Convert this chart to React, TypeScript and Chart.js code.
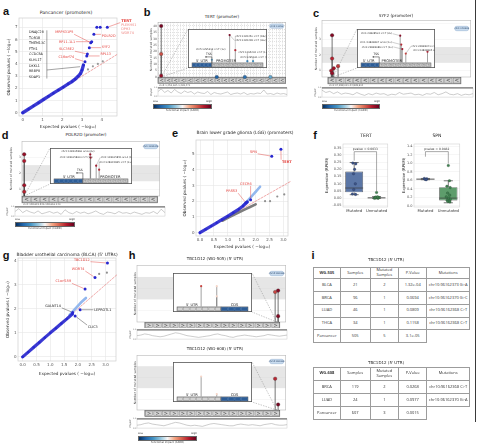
import React, { useEffect, useRef } from "react";
import { Chart, registerables } from "chart.js";

Chart.register(...registerables);

const SANS = "'DejaVu Sans', 'Open Sans', sans-serif";
const TABLE_FONT = "'Open Sans', 'DejaVu Sans', sans-serif";
const LETTER_FONT = "'Liberation Sans', Arial, sans-serif";
const INK = "#262626";
const HIT = "#e4413c";
const HIT_SOFT = "#ee8a86";
const QQ_BLUE = "#2727cf";
const RDBU = ["#053061", "#2166ac", "#4393c3", "#92c5de", "#f7f7f7", "#f4a582", "#d6604d", "#b2182b", "#67001f"];

Chart.defaults.font.family = SANS;

// ---------- a: pan-cancer promoters ----------
const panExpected = [0, 0.3, 0.55, 0.8, 1.05, 1.3, 1.55, 1.8, 2.05, 2.3, 2.5, 2.65, 2.8, 2.92, 3.0, 3.07];
const panObserved = [0, 0.3, 0.56, 0.82, 1.08, 1.34, 1.6, 1.85, 2.1, 2.36, 2.56, 2.75, 2.98, 3.2, 3.5, 3.9];
const panHitExpected = [3.15, 3.24, 3.27, 3.37, 3.44, 3.49, 3.6, 3.75, 3.92, 4.28];
const panHitObserved = [4.18, 4.65, 4.81, 5.33, 5.74, 5.82, 6.42, 7.0, 7.0, 7.0];
const panNullExpected = [3.3, 3.55, 3.8, 4.05];
const panNullObserved = [3.55, 3.8, 4.0, 4.2];
const panDiagonal = [0, 4.8];
const panXTicks = [0, 1, 2, 3, 4];
const panYTicks = [0, 1, 2, 3, 4, 5, 6, 7];
const panRedGenes = ["TERT", "PLEKHS1", "DPH3", "WDR74", "MRPS31P5", "RP11-1L1", "SLC35E2", "C16orf74", "POLR2D", "SYF2", "RPL13"];
const panListGenes = ["DNAJC28", "TOR1B", "TMEM13C", "FTH1", "CCDC8A", "KLHL17", "DKKL1", "RBBP8", "SDAP1"];

// ---------- e: LGG promoters ----------
const lggExpected = [0, 0.2, 0.4, 0.6, 0.8, 1.0, 1.2, 1.4, 1.55, 1.7];
const lggObserved = [0, 0.21, 0.42, 0.63, 0.84, 1.05, 1.27, 1.5, 1.7, 1.95];
const lggBandExpected = [1.55, 1.7, 1.85, 2.0, 2.16];
const lggBandObserved = [1.75, 2.0, 2.3, 2.6, 2.92];
const lggNullCurveExpected = [0.8, 1.0, 1.2, 1.4, 1.6, 1.8, 2.0];
const lggNullCurveObserved = [0.76, 0.94, 1.12, 1.3, 1.47, 1.63, 1.8];
const lggNullExpected = [2.34, 2.52, 2.78, 3.03];
const lggNullObserved = [2.0, 2.0, 2.3, 2.43];
const lggHitExpected = [1.65, 1.82, 2.58, 2.91];
const lggHitObserved = [1.9, 2.1, 4.86, 5.3];
const lggHitGenes = ["PRSS3", "CECR6", "SPN", "TERT"];
const lggDiagonal = [0, 3.25];
const lggXTicks = [0, 0.5, 1, 1.5, 2, 2.5, 3];
const lggYTicks = [0, 1, 2, 3, 4, 5];

// ---------- g: BLCA 5' UTRs ----------
const blcaExpected = [0, 0.2, 0.4, 0.6, 0.8, 1.0, 1.2, 1.4, 1.6, 1.8];
const blcaObserved = [0, 0.2, 0.4, 0.6, 0.8, 1.0, 1.19, 1.39, 1.58, 1.78];
const blcaBandExpected = [1.7, 1.9, 2.1, 2.29];
const blcaBandObserved = [1.75, 2.0, 2.25, 2.45];
const blcaHitExpected = [1.81, 1.9, 2.08, 2.26, 2.62, 3.07];
const blcaHitObserved = [1.85, 1.7, 1.96, 2.82, 3.3, 3.9];
const blcaHitGenes = ["GALNT14", "CLIC3", "LEPROTL1", "C1orf159", "WDR74", "TBC1D12"];
const blcaNullExpected = [2.77, 3.05];
const blcaNullObserved = [3.45, 3.5];
const blcaDiagonal = [0, 3.4];
const blcaXTicks = [0, 0.5, 1, 1.5, 2, 2.5, 3];
const blcaYTicks = [0, 1, 2, 3, 4];

// ---------- b: TERT promoter ----------
const tertMainPos = [2.5, 2.5, 2.5, 46, 68, 88];
const tertMainCount = [40, 18, 1, 0, 0, 0];
const tertMainCadd = [0.97, 0.78, 0.92, 0.12, 0.15, 0.3];
const tertCountGrid = [0, 2.5, 5, 7.5, 10, 12.5, 15, 17.5, 20, 22.5, 25, 27.5, 30, 32.5, 35, 37.5, 40, 42.5];
const tertCountLabels = [0, 5, 10, 15, 20, 25, 30, 35, 40];
const tertInsetPos = [28, 53, 61, 78, 86];
const tertInsetCount = [4, 40, 18, 2, 2];
const tertInsetCadd = [0.3, 0.97, 0.85, 0.2, 0.25];
const tertNotes = ["chr5:1295313 C>T (1x)", "chr5:1295228 C>T (40x)", "chr5:1295250 C>T (18x)", "chr5:1295242 C>T (1x)", "chr5:1295161 C>T (1x)"];
const tertPhyloP = [0.9, 1.4, 0.7, 1.1, 0.6, 1.3, 0.8, 0.5, 1.0, 0.7, 0.9, 0.4, 0.8, 0.6, 0.5, 0.9, 0.3, 0.7, 0.5, 0.4, 0.6, 0.8, 0.3, 0.5, 0.6, 0.4, 0.7, 0.3, 0.5, 0.4, 0.6, 0.5, 1.2, 0.4, 0.5, 0.3, 0.6, 0.4, 0.5, 0.3];

// ---------- c: SYF2 promoter ----------
const syf2MainPos = [6.8, 6.8, 7.9, 10.8, 6.2, 6.8];
const syf2MainCount = [3.25, 1.77, 1.15, 1.29, 1.0, 0.84];
const syf2MainCadd = [0.95, 0.86, 0.9, 0.82, 0.88, 0.92];
const syf2CountTicks = [1, 2, 3, 4];
const syf2CountLabels = [1, 2, 3];
const syf2InsetPos = [56, 57.5, 59, 64, 95];
const syf2InsetCount = [3, 2, 1.5, 1, 1.2];
const syf2InsetCadd = [0.95, 0.85, 0.9, 0.8, 0.88];
const syf2Notes = ["chr1:24838502 C>T (3x)", "chr1:24838497 G>A (2x)", "chr1:24838489 C>T (1x)", "chr1:24838471 C>T (1x)", "chr1:24838395 G>A (1x)"];
const syf2PhyloP = [1.2, 0.8, 1.0, 0.6, 0.9, 0.5, 0.7, 0.6, 0.4, 0.8, 0.5, 0.3, 0.6, 0.4, 0.7, 0.5, 0.6, 0.3, 0.5, 0.4, 0.8, 0.5, 0.6, 0.7, 0.4, 0.5, 0.3, 0.6, 0.5, 0.8, 0.4, 0.6, 0.9, 0.5, 0.4, 0.6, 0.3, 0.5, 0.4, 0.6];

// ---------- d: POLR2D promoter ----------
const polr2dMainPos = [1.6, 1.6, 1.6, 1.6];
const polr2dMainCount = [3.17, 2.76, 1.25, 0.84];
const polr2dMainCadd = [0.92, 0.88, 0.9, 0.86];
const polr2dCountTicks = [1, 2, 3];
const polr2dInsetPos = [49, 49.5, 57, 61];
const polr2dInsetCount = [3, 2.6, 1.6, 1.1];
const polr2dInsetCadd = [0.92, 0.88, 0.9, 0.86];
const polr2dNotes = ["chr2:128615866 G>A (2x)", "chr2:128615864 C>T (1x)", "chr2:128615851 G>A (1x)", "chr2:128615845 C>T (1x)"];
const polr2dPhyloP = [0.8, 1.3, 0.6, 1.0, 0.7, 0.5, 0.9, 0.4, 0.6, 0.8, 0.5, 0.7, 0.3, 1.1, 0.6, 0.4, 0.8, 0.5, 0.7, 0.4, 0.6, 0.9, 0.5, 0.3, 0.7, 0.6, 0.4, 0.8, 0.5, 0.6, 0.4, 0.7, 0.5, 0.3, 0.6, 0.5, 0.8, 0.4, 1.2, 0.6];

// ---------- h: TBC1D12 5' UTR ----------
const wg505MainPos = [92.9, 94.9, 94.9];
const wg505MainCount = [1.83, 1.89, 0.75];
const wg505MainCadd = [0.8, 0.95, 0.95];
const wg505InsetPos = [34, 56, 56];
const wg505InsetCount = [2, 2, 1];
const wg505InsetCadd = [0.8, 0.55, 0.55];
const wg505PhyloP = [0.6, 0.7, 0.9, 0.8, 0.6, 0.5, 0.4, 0.5, 0.7, 0.9, 1.1, 1.0, 0.8, 0.6, 0.5, 0.4, 0.3, 0.4, 0.5, 0.6, 0.8, 0.9, 0.7, 0.6, 0.4, 0.3, 0.5, 0.6, 0.7, 0.6, 0.5, 0.4, 0.5, 0.6, 0.8, 0.7, 0.6, 0.5, 0.6, 0.7];
const wg608MainPos = [92.9, 94.9];
const wg608MainCount = [1.93, 0.75];
const wg608MainCadd = [0.85, 0.97];
const wg608InsetPos = [34, 56];
const wg608InsetCount = [1.9, 0.23];
const wg608InsetCadd = [0.55, 0.55];
const wg608PhyloP = [0.5, 0.6, 0.8, 0.9, 0.7, 0.6, 0.5, 0.4, 0.6, 0.8, 1.0, 0.9, 0.7, 0.5, 0.4, 0.5, 0.4, 0.3, 0.5, 0.7, 0.8, 0.7, 0.6, 0.5, 0.4, 0.4, 0.6, 0.7, 0.6, 0.5, 0.6, 0.5, 0.4, 0.6, 0.7, 0.8, 0.6, 0.5, 0.5, 0.6];
const tbcCountTicks = [1, 2];

// ---------- f: expression ----------
const exprGroups = ["Mutated", "Unmutated"];
const tertQ1 = [0.041, 0.001];
const tertMedian = [0.071, 0.003];
const tertQ3 = [0.185, 0.006];
const tertLow = [0.025, 0.0];
const tertHigh = [0.247, 0.012];
const tertMutatedRpkm = [0.243, 0.238, 0.2, 0.17, 0.1, 0.06, 0.03, 0.027];
const tertMutatedJitter = [-0.06, 0.07, 0.02, -0.03, 0.05, -0.02, -0.08, 0.06];
const tertUnmutatedRpkm = [0.0, 0.001, 0.002, 0.003, 0.004, 0.005, 0.006, 0.008, 0.01, 0.04];
const tertUnmutatedJitter = [-0.1, 0.06, -0.03, 0.09, -0.07, 0.02, 0.1, -0.05, 0.04, 0.0];
const tertTicks = [-0.05, 0, 0.05, 0.1, 0.15, 0.2, 0.25, 0.3, 0.35];
const spnQ1 = [0.62, 0.126];
const spnMedian = [0.63, 0.18];
const spnQ3 = [0.64, 0.44];
const spnLow = [0.615, 0.07];
const spnHigh = [0.645, 0.59];
const spnMutatedRpkm = [0.645, 0.635, 0.625, 0.615];
const spnMutatedJitter = [-0.05, 0.06, -0.02, 0.03];
const spnUnmutatedRpkm = [0.95, 0.59, 0.46, 0.43, 0.3, 0.25, 0.21, 0.18, 0.15, 0.13, 0.12, 0.1, 0.09];
const spnUnmutatedJitter = [0.0, 0.05, -0.06, 0.08, -0.03, 0.06, -0.09, 0.02, 0.09, -0.05, 0.04, -0.02, 0.07];
const spnTicks = [0, 0.2, 0.4, 0.6, 0.8, 1.0, 1.2, 1.4];

// ---------- i: tables ----------
const wg505Cohorts = ["BLCA", "BRCA", "LUAD", "THCA", "Pancancer"];
const wg505Samples = [21, 96, 46, 34, 505];
const wg505Mutated = [2, 1, 1, 1, 5];
const wg505PValues = ["1.32e-04", "0.0694", "0.0809", "0.1158", "3.1e-05"];
const wg505Mutations = ["chr10:96162373 G>A", "chr10:96162370 G>C", "chr10:96162368 C>T", "chr10:96162368 C>T", ""];
const wg608Cohorts = ["BRCA", "LUAD", "Pancancer"];
const wg608Samples = [119, 24, 607];
const wg608Mutated = [2, 1, 3];
const wg608PValues = ["0.0268", "0.0977", "0.0015"];
const wg608Mutations = ["chr10:96162368 C>T", "chr10:96162370 G>A", ""];

// ---------------- helpers ----------------
function hexToRgb(h: string) {
  const n = parseInt(h.slice(1), 16);
  return [(n >> 16) & 255, (n >> 8) & 255, n & 255];
}
function caddColor(v: number) {
  const t = Math.max(0, Math.min(1, v)) * (RDBU.length - 1);
  const i = Math.min(RDBU.length - 2, Math.floor(t));
  const f = t - i;
  const a = hexToRgb(RDBU[i]);
  const b = hexToRgb(RDBU[i + 1]);
  const c = a.map((av, k) => Math.round(av + (b[k] - av) * f));
  return `rgb(${c[0]},${c[1]},${c[2]})`;
}
const clamp = (v: number, lo: number, hi: number) => Math.max(lo, Math.min(hi, v));

function fitLayout(box: any, area: any) {
  return {
    padding: { left: 0, top: area.y0 - box.t, right: box.l + box.w - area.x1, bottom: 0 },
    yW: area.x0 - box.l,
    xH: box.t + box.h - area.y1,
  };
}

const baseOptions = { responsive: false, animation: false, devicePixelRatio: 1, events: [] as any[] };
const noPlugins = { legend: { display: false }, tooltip: { enabled: false }, title: { display: false } };

function drawCallout(ctx: any, x: any, y: any, l: any) {
  ctx.font = `${l.bold ? "bold " : ""}${l.size || 3.8}px ${SANS}`;
  ctx.fillStyle = l.color;
  ctx.textAlign = l.align || "center";
  ctx.textBaseline = "middle";
  const px = x.getPixelForValue(l.at[0]);
  const py = y.getPixelForValue(l.at[1]);
  ctx.fillText(l.text, px, py);
  if (!l.to) return;
  const w = ctx.measureText(l.text).width;
  const bx0 = l.align === "left" ? px : l.align === "right" ? px - w : px - w / 2;
  const tx = x.getPixelForValue(l.to[0]);
  const ty = y.getPixelForValue(l.to[1]);
  const sx = clamp(tx, bx0 - 0.8, bx0 + w + 0.8);
  const sy = clamp(ty, py - 2, py + 2);
  const d = Math.hypot(tx - sx, ty - sy) || 1;
  ctx.strokeStyle = l.lineColor || l.color;
  ctx.lineWidth = 0.45;
  ctx.beginPath();
  ctx.moveTo(sx, sy);
  ctx.lineTo(tx - ((tx - sx) / d) * 1.6, ty - ((ty - sy) / d) * 1.6);
  ctx.stroke();
}

// ---------------- QQ plots ----------------
function qqConfig(s: any) {
  const f = fitLayout(s.box, s.area);
  const n = s.layers.length;
  return {
    type: "scatter",
    data: {
      datasets: s.layers.map((l: any, i: number) => ({
        data: l.x.map((xv: number, k: number) => ({ x: xv, y: l.y[k] })),
        showLine: !!l.width,
        borderColor: l.color,
        borderWidth: l.width || 0,
        borderDash: l.dash || [],
        borderCapStyle: "round",
        borderJoinStyle: "round",
        pointRadius: l.r || 0,
        pointBackgroundColor: l.color,
        pointBorderWidth: 0,
        clip: false,
        order: n - i,
      })),
    },
    options: {
      ...baseOptions,
      layout: { padding: f.padding },
      plugins: noPlugins,
      scales: {
        x: {
          type: "linear",
          min: s.xr[0],
          max: s.xr[1],
          afterFit: (sc: any) => { sc.height = f.xH; },
          afterBuildTicks: (sc: any) => { sc.ticks = s.xTicks.map((v: number) => ({ value: v })); },
          ticks: { font: { size: 4 }, color: "#555", padding: 1.5, autoSkip: false, maxRotation: 0, callback: (v: number) => v.toFixed(s.xDec) },
          grid: { color: "#e6e6e6", lineWidth: 0.6, drawTicks: false },
          border: { display: false },
          title: { display: true, text: "Expected pvalues ( −log₁₀)", font: { size: 4.2 }, color: "#333", padding: { top: 0, bottom: 0 } },
        },
        y: {
          type: "linear",
          min: s.yr[0],
          max: s.yr[1],
          afterFit: (sc: any) => { sc.width = f.yW; },
          afterBuildTicks: (sc: any) => { sc.ticks = s.yTicks.map((v: number) => ({ value: v })); },
          ticks: { font: { size: 4 }, color: "#555", padding: 1.5, autoSkip: false, callback: (v: number) => String(v) },
          grid: { color: "#e6e6e6", lineWidth: 0.6, drawTicks: false },
          border: { display: false },
          title: { display: true, text: "Observed pvalues ( −log₁₀)", font: { size: 4.2 }, color: "#333", padding: { top: s.yTitlePad, bottom: 0 } },
        },
      },
    },
    plugins: [
      {
        id: "qqDecor",
        beforeDatasetsDraw(chart: any) {
          const { ctx, chartArea: a } = chart;
          ctx.save();
          ctx.strokeStyle = "#cfcfcf";
          ctx.lineWidth = 0.7;
          ctx.strokeRect(a.left, a.top, a.right - a.left, a.bottom - a.top);
          ctx.restore();
        },
        afterDatasetsDraw(chart: any) {
          const { ctx, scales } = chart;
          const x = scales.x, y = scales.y;
          ctx.save();
          (s.rules || []).forEach((r: number[]) => {
            ctx.strokeStyle = "#333";
            ctx.lineWidth = 0.45;
            ctx.beginPath();
            ctx.moveTo(x.getPixelForValue(r[0]), y.getPixelForValue(r[1]));
            ctx.lineTo(x.getPixelForValue(r[2]), y.getPixelForValue(r[3]));
            ctx.stroke();
          });
          s.labels.forEach((l: any) => drawCallout(ctx, x, y, l));
          ctx.restore();
        },
      },
    ],
  };
}

// ---------------- lollipop main view ----------------
function lollipopConfig(s: any) {
  const f = fitLayout(s.box, s.area);
  return {
    type: "scatter",
    data: {
      datasets: [
        {
          data: s.pos.map((p: number, i: number) => ({ x: p, y: s.count[i] })),
          pointRadius: s.r || 1.8,
          pointBackgroundColor: s.cadd.map(caddColor),
          pointBorderColor: "#333",
          pointBorderWidth: 0.3,
          clip: false,
        },
      ],
    },
    options: {
      ...baseOptions,
      layout: { padding: f.padding },
      plugins: noPlugins,
      scales: {
        x: {
          type: "linear",
          min: 0,
          max: 100,
          afterFit: (sc: any) => { sc.height = f.xH; },
          ticks: { display: false, stepSize: 2.5 },
          grid: { display: !!s.dense, color: "#c4c4c4", lineWidth: 0.5, drawTicks: false },
          border: { display: false, dash: [1, 1] },
        },
        y: {
          type: "linear",
          min: s.yMin,
          max: s.yMax,
          afterFit: (sc: any) => { sc.width = f.yW; },
          afterBuildTicks: (sc: any) => { sc.ticks = s.yGrid.map((v: number) => ({ value: v })); },
          ticks: { font: { size: 3 }, color: "#555", padding: 1, autoSkip: false, callback: (v: number) => (s.yLabels.includes(v) ? String(v) : "") },
          grid: { color: s.dense ? "#c4c4c4" : "#eeeeee", lineWidth: 0.5, drawTicks: false },
          border: { display: false, dash: s.dense ? [1, 1] : [] },
          title: { display: true, text: "Number of mutated samples", font: { size: 3 }, color: "#444", padding: { top: s.yTitlePad, bottom: 0 } },
        },
      },
    },
    plugins: [
      {
        id: "lollipopDecor",
        beforeDatasetsDraw(chart: any) {
          const { ctx, chartArea: a, scales } = chart;
          const x = scales.x, y = scales.y;
          ctx.save();
          if (s.band) {
            const yt = y.getPixelForValue(s.band[1]);
            const yb = y.getPixelForValue(s.band[0]);
            ctx.fillStyle = "rgba(205,205,205,0.5)";
            ctx.fillRect(a.left, yt, a.right - a.left, yb - yt);
          }
          ctx.strokeStyle = "#b8b8b8";
          ctx.lineWidth = 0.6;
          ctx.strokeRect(a.left, a.top, a.right - a.left, a.bottom - a.top);
          // gene track with strand chevrons
          const x0 = x.getPixelForValue(s.track[0]);
          const x1 = x.getPixelForValue(s.track[1]);
          const t0 = a.bottom + 0.3;
          const th = s.trackH;
          ctx.fillStyle = "#d3d3d3";
          ctx.fillRect(x0, t0, x1 - x0, th);
          const cw = (x1 - x0) / s.cells;
          ctx.strokeStyle = "#7a7a7a";
          ctx.lineWidth = 0.35;
          ctx.font = `${th * 0.85}px ${SANS}`;
          ctx.textAlign = "center";
          ctx.textBaseline = "middle";
          ctx.fillStyle = "#4a4a4a";
          for (let i = 0; i < s.cells; i++) {
            ctx.strokeRect(x0 + i * cw + 0.6, t0 + 0.8, cw - 1.2, th - 1.6);
            ctx.fillText(s.chevron, x0 + (i + 0.5) * cw, t0 + th / 2);
          }
          ctx.strokeStyle = "#555";
          ctx.lineWidth = 0.6;
          ctx.strokeRect(x0, t0, x1 - x0, th);
          ctx.font = `2.4px ${SANS}`;
          ctx.textAlign = "left";
          ctx.fillStyle = "#555";
          ctx.fillText(s.locus, x0 + 1, t0 + th + 1.8);
          // dashed guides towards the zoomed inset
          const gx = x.getPixelForValue(s.guideAt);
          const cx = (s.guideSide === "left" ? s.inset.x0 : s.inset.x1) - s.box.l;
          ctx.setLineDash([1.4, 1.2]);
          ctx.strokeStyle = "#8a8a8a";
          ctx.lineWidth = 0.5;
          [s.inset.y0, s.inset.y1].forEach((cy: number) => {
            ctx.beginPath();
            ctx.moveTo(gx, a.bottom);
            ctx.lineTo(cx, cy - s.box.t);
            ctx.stroke();
          });
          ctx.setLineDash([]);
          // stems
          ctx.strokeStyle = "#3a3a3a";
          ctx.lineWidth = 0.7;
          s.pos.forEach((p: number, i: number) => {
            if (s.count[i] <= s.yMin) return;
            const px = x.getPixelForValue(p);
            ctx.beginPath();
            ctx.moveTo(px, a.bottom);
            ctx.lineTo(px, y.getPixelForValue(s.count[i]));
            ctx.stroke();
          });
          // region badge
          const bw = 14, bh = 4.4;
          const bx = a.right - bw - 2, by = a.top + s.badgeDy;
          ctx.fillStyle = "#c9dcef";
          ctx.strokeStyle = "#7e9fc4";
          ctx.lineWidth = 0.4;
          ctx.beginPath();
          ctx.roundRect(bx, by, bw, bh, 2);
          ctx.fill();
          ctx.stroke();
          ctx.fillStyle = "#2e4a6d";
          ctx.font = `2.3px ${SANS}`;
          ctx.textAlign = "center";
          ctx.fillText(s.badge, bx + bw / 2, by + bh / 2 + 0.1);
          ctx.restore();
        },
      },
    ],
  };
}

// ---------------- lollipop zoomed inset ----------------
function insetConfig(s: any) {
  const w = s.rect.x1 - s.rect.x0;
  const h = s.rect.y1 - s.rect.y0;
  const barH = 4.2;
  return {
    type: "scatter",
    data: {
      datasets: [
        {
          data: s.pos.map((p: number, i: number) => ({ x: p, y: s.count[i] })),
          pointRadius: 1.1,
          pointBackgroundColor: s.cadd.map(caddColor),
          pointBorderWidth: 0,
          clip: false,
        },
      ],
    },
    options: {
      ...baseOptions,
      layout: { padding: { top: 3, bottom: barH + 1.3, left: 0.6, right: 0.6 } },
      plugins: noPlugins,
      scales: { x: { display: false, min: 0, max: 100 }, y: { display: false, min: 0, max: s.yMax } },
    },
    plugins: [
      {
        id: "insetFrame",
        beforeDraw(chart: any) {
          const ctx = chart.ctx;
          ctx.save();
          ctx.fillStyle = "#fff";
          ctx.fillRect(0, 0, w, h);
          ctx.restore();
        },
        beforeDatasetsDraw(chart: any) {
          const { ctx, chartArea: a, scales } = chart;
          const x = scales.x, y = scales.y;
          ctx.save();
          ctx.strokeStyle = "#555";
          ctx.lineWidth = 0.55;
          s.pos.forEach((p: number, i: number) => {
            const px = x.getPixelForValue(p);
            ctx.beginPath();
            ctx.moveTo(px, a.bottom);
            ctx.lineTo(px, y.getPixelForValue(s.count[i]));
            ctx.stroke();
          });
          ctx.restore();
        },
        afterDatasetsDraw(chart: any) {
          const { ctx, chartArea: a, scales } = chart;
          const x = scales.x, y = scales.y;
          ctx.save();
          const t0 = a.bottom + 0.4;
          s.parts.forEach((p: any) => {
            const px0 = x.getPixelForValue(p.from);
            const px1 = x.getPixelForValue(p.to);
            ctx.fillStyle = p.kind === "blue" ? "#2d5d97" : "#d2d2d2";
            ctx.fillRect(px0, t0, px1 - px0, barH);
            const cells = p.cells || 0;
            const cw = (px1 - px0) / Math.max(cells, 1);
            ctx.strokeStyle = p.kind === "blue" ? "#6f93bf" : "#7a7a7a";
            ctx.lineWidth = 0.3;
            ctx.font = `${barH * 0.8}px ${SANS}`;
            ctx.textAlign = "center";
            ctx.textBaseline = "middle";
            ctx.fillStyle = "#505050";
            for (let i = 0; i < cells; i++) {
              ctx.strokeRect(px0 + i * cw + 0.5, t0 + 0.7, cw - 1, barH - 1.4);
              if (p.chevron) ctx.fillText(p.chevron, px0 + (i + 0.5) * cw, t0 + barH / 2);
            }
            ctx.strokeStyle = "#555";
            ctx.lineWidth = 0.45;
            ctx.strokeRect(px0, t0, px1 - px0, barH);
          });
          ctx.fillStyle = "#222";
          ctx.font = `3.6px ${SANS}`;
          ctx.textAlign = "center";
          ctx.textBaseline = "alphabetic";
          s.partLabels.forEach((l: any) => ctx.fillText(l.text, x.getPixelForValue(l.at), t0 - 1.2));
          if (s.tss !== undefined) {
            const tx = x.getPixelForValue(s.tss);
            ctx.strokeStyle = "#222";
            ctx.lineWidth = 0.5;
            ctx.beginPath();
            ctx.moveTo(tx, t0);
            ctx.lineTo(tx, t0 - 6);
            ctx.lineTo(tx + s.tssDir * 6, t0 - 6);
            ctx.stroke();
            ctx.beginPath();
            ctx.moveTo(tx + s.tssDir * 7, t0 - 6);
            ctx.lineTo(tx + s.tssDir * 5.5, t0 - 6.9);
            ctx.lineTo(tx + s.tssDir * 5.5, t0 - 5.1);
            ctx.closePath();
            ctx.fillStyle = "#222";
            ctx.fill();
            ctx.font = `3px ${SANS}`;
            ctx.fillText("TSS", tx + s.tssDir * 3, t0 - 7.6);
          }
          (s.notes || []).forEach((nt: any) => {
            ctx.font = `2.5px ${SANS}`;
            ctx.fillStyle = "#333";
            ctx.textAlign = "left";
            ctx.textBaseline = "middle";
            const px = nt.fx * w, py = nt.fy * h;
            ctx.fillText(nt.text, px, py);
            const tw = ctx.measureText(nt.text).width;
            const hx = x.getPixelForValue(s.pos[nt.i]);
            const hy = y.getPixelForValue(s.count[nt.i]);
            const sx = clamp(hx, px - 0.6, px + tw + 0.6);
            ctx.strokeStyle = "#777";
            ctx.lineWidth = 0.35;
            ctx.beginPath();
            ctx.moveTo(sx, py);
            ctx.lineTo(hx, hy);
            ctx.stroke();
          });
          ctx.strokeStyle = "#555";
          ctx.lineWidth = 0.8;
          ctx.strokeRect(0.4, 0.4, w - 0.8, h - 0.8);
          ctx.restore();
        },
      },
    ],
  };
}

// ---------------- conservation track ----------------
function phyloConfig(s: any) {
  const f = fitLayout(s.box, s.area);
  return {
    type: "line",
    data: {
      labels: s.values.map((_: number, i: number) => i),
      datasets: [{ data: s.values, borderColor: "#9b9b9b", borderWidth: 0.5, pointRadius: 0, tension: 0, clip: false }],
    },
    options: {
      ...baseOptions,
      layout: { padding: { ...f.padding, bottom: f.xH } },
      plugins: noPlugins,
      scales: {
        x: { display: false, offset: false },
        y: {
          min: 0,
          max: 1.6,
          afterFit: (sc: any) => { sc.width = f.yW; },
          afterBuildTicks: (sc: any) => { sc.ticks = [0, 0.8, 1.6].map((v) => ({ value: v })); },
          ticks: { font: { size: 2.2 }, color: "#777", padding: 0.6, callback: (v: number) => v.toFixed(1) },
          grid: { display: false, drawTicks: false },
          border: { display: false },
          title: { display: true, text: "PhyloP", font: { size: 2.4 }, color: "#555", padding: { top: s.titlePad, bottom: 0 } },
        },
      },
    },
    plugins: [
      {
        id: "phyloFrame",
        beforeDatasetsDraw(chart: any) {
          const { ctx, chartArea: a } = chart;
          ctx.save();
          ctx.strokeStyle = "#c8c8c8";
          ctx.lineWidth = 0.5;
          ctx.strokeRect(a.left, a.top, a.right - a.left, a.bottom - a.top);
          ctx.strokeStyle = "#444";
          ctx.lineWidth = 0.9;
          ctx.beginPath();
          ctx.moveTo(a.left, a.top);
          ctx.lineTo(a.right, a.top);
          ctx.stroke();
          ctx.restore();
        },
      },
    ],
  };
}

// ---------------- expression box plots ----------------
function boxConfig(s: any) {
  const f = fitLayout(s.box, s.area);
  return {
    type: "bar",
    data: {
      datasets: [
        {
          type: "bar",
          data: [0, 1].map((i) => ({ x: i, y: [s.q1[i], s.q3[i]] })),
          backgroundColor: ["#5b76a6", "#5e9d6c"],
          borderColor: "#3d3d3d",
          borderWidth: 0.7,
          borderSkipped: false,
          barPercentage: 1,
          categoryPercentage: 0.8,
          order: 3,
        },
        {
          type: "scatter",
          data: s.pts[0].map((v: number, k: number) => ({ x: s.jit[0][k], y: v })),
          pointRadius: 1.3,
          pointBackgroundColor: "#3d5488",
          pointBorderColor: "#1e2a44",
          pointBorderWidth: 0.25,
          clip: false,
          order: 1,
        },
        {
          type: "scatter",
          data: s.pts[1].map((v: number, k: number) => ({ x: 1 + s.jit[1][k], y: v })),
          pointRadius: 1.3,
          pointBackgroundColor: "#3f8050",
          pointBorderColor: "#1f3f28",
          pointBorderWidth: 0.25,
          clip: false,
          order: 2,
        },
      ],
    },
    options: {
      ...baseOptions,
      layout: { padding: f.padding },
      plugins: noPlugins,
      scales: {
        x: {
          type: "linear",
          min: -0.5,
          max: 1.5,
          offset: false,
          afterFit: (sc: any) => { sc.height = f.xH; },
          afterBuildTicks: (sc: any) => { sc.ticks = [{ value: 0 }, { value: 1 }]; },
          ticks: { font: { size: 3.8 }, color: "#333", padding: 2, autoSkip: false, maxRotation: 0, callback: (v: number) => exprGroups[v] },
          grid: { display: false, drawTicks: false },
          border: { display: false },
        },
        y: {
          type: "linear",
          min: s.yr[0],
          max: s.yr[1],
          afterFit: (sc: any) => { sc.width = f.yW; },
          afterBuildTicks: (sc: any) => { sc.ticks = s.ticks.map((v: number) => ({ value: v })); },
          ticks: { font: { size: 3.5 }, color: "#555", padding: 1.5, autoSkip: false, callback: (v: number) => v.toFixed(s.dec) },
          grid: { color: "#ececec", lineWidth: 0.5, drawTicks: false },
          border: { display: false },
          title: { display: true, text: "Expression (RPKM)", font: { size: 3.8 }, color: "#333", padding: { top: s.yTitlePad, bottom: 0 } },
        },
      },
    },
    plugins: [
      {
        id: "boxDecor",
        beforeDatasetsDraw(chart: any) {
          const { ctx, chartArea: a } = chart;
          ctx.save();
          ctx.strokeStyle = "#d2d2d2";
          ctx.lineWidth = 0.6;
          ctx.strokeRect(a.left, a.top, a.right - a.left, a.bottom - a.top);
          ctx.restore();
        },
        afterDatasetDraw(chart: any, args: any) {
          if (args.index !== 0) return;
          const { ctx, scales } = chart;
          const x = scales.x, y = scales.y;
          const half = (x.getPixelForValue(0.4) - x.getPixelForValue(0)) ;
          ctx.save();
          ctx.strokeStyle = "#3d3d3d";
          ctx.lineWidth = 0.7;
          [0, 1].forEach((i) => {
            const cx = x.getPixelForValue(i);
            const seg = (x0: number, y0: number, x1: number, y1: number) => {
              ctx.beginPath();
              ctx.moveTo(x0, y0);
              ctx.lineTo(x1, y1);
              ctx.stroke();
            };
            seg(cx, y.getPixelForValue(s.q3[i]), cx, y.getPixelForValue(s.hi[i]));
            seg(cx, y.getPixelForValue(s.q1[i]), cx, y.getPixelForValue(s.lo[i]));
            seg(cx - half / 2, y.getPixelForValue(s.hi[i]), cx + half / 2, y.getPixelForValue(s.hi[i]));
            seg(cx - half / 2, y.getPixelForValue(s.lo[i]), cx + half / 2, y.getPixelForValue(s.lo[i]));
            seg(cx - half, y.getPixelForValue(s.med[i]), cx + half, y.getPixelForValue(s.med[i]));
          });
          ctx.restore();
        },
        afterDatasetsDraw(chart: any) {
          const { ctx, scales } = chart;
          const x = scales.x, y = scales.y;
          const bx0 = x.getPixelForValue(0), bx1 = x.getPixelForValue(1);
          const by = y.getPixelForValue(s.bracket[0]);
          ctx.save();
          ctx.strokeStyle = "#555";
          ctx.lineWidth = 0.5;
          ctx.beginPath();
          ctx.moveTo(bx0, y.getPixelForValue(s.bracket[1]));
          ctx.lineTo(bx0, by);
          ctx.lineTo(bx1, by);
          ctx.lineTo(bx1, y.getPixelForValue(s.bracket[2]));
          ctx.stroke();
          ctx.fillStyle = "#333";
          ctx.font = `3px ${SANS}`;
          ctx.textAlign = "center";
          ctx.textBaseline = "bottom";
          ctx.fillText(s.pText, (bx0 + bx1) / 2, by - 0.6);
          ctx.restore();
        },
      },
    ],
  };
}

// ---------------- React pieces ----------------
function ChartCanvas({ box, make }: any) {
  const ref = useRef<HTMLCanvasElement>(null);
  useEffect(() => {
    const chart = new Chart(ref.current as HTMLCanvasElement, make());
    return () => chart.destroy();
  }, []);
  return (
    <canvas
      ref={ref}
      width={box.w}
      height={box.h}
      style={{ position: "absolute", left: box.l, top: box.t, width: box.w, height: box.h }}
    />
  );
}

function Txt({ x, y, size, children, color = INK, weight = 400, align = "center", family = SANS }: any) {
  const tx = align === "center" ? "-50%" : align === "right" ? "-100%" : "0";
  return (
    <div
      style={{
        position: "absolute",
        left: x,
        top: y,
        transform: `translate(${tx}, -50%)`,
        fontSize: size,
        lineHeight: 1,
        color,
        fontWeight: weight,
        fontFamily: family,
        whiteSpace: "nowrap",
      }}
    >
      {children}
    </div>
  );
}

function ColorBar({ x, y, w, h }: any) {
  return (
    <>
      <div
        style={{
          position: "absolute",
          left: x,
          top: y,
          width: w,
          height: h,
          background: `linear-gradient(to right, ${RDBU.join(",")})`,
          border: "0.4px solid #666",
          boxSizing: "border-box",
        }}
      />
      <Txt x={x} y={y - 1.8} size={2.5} align="left">Low</Txt>
      <Txt x={x + w} y={y - 1.8} size={2.5} align="right">High</Txt>
      <Txt x={x + w / 2} y={y + h + 2.3} size={2.6} color="#444">Functional impact (CADD)</Txt>
    </>
  );
}

function Inset({ spec }: any) {
  const r = spec.rect;
  return <ChartCanvas box={{ l: r.x0, t: r.y0, w: r.x1 - r.x0, h: r.y1 - r.y0 }} make={() => insetConfig(spec)} />;
}

function CohortTable({ left, top, id, cohorts, samples, mutated, pvals, muts, headH, rowH }: any) {
  const cell: any = { border: "0.6px solid #9c9c9c", padding: 0, textAlign: "center", fontWeight: 400, lineHeight: 1.2 };
  const widths = [26.7, 30, 28.3, 28.4, 42.6];
  return (
    <table
      style={{
        position: "absolute",
        left,
        top,
        borderCollapse: "collapse",
        tableLayout: "fixed",
        width: 156,
        fontFamily: TABLE_FONT,
        fontSize: 4,
        color: "#333",
      }}
    >
      <colgroup>
        {widths.map((w, i) => (
          <col key={i} style={{ width: w }} />
        ))}
      </colgroup>
      <thead>
        <tr style={{ height: headH }}>
          <th style={{ ...cell, fontWeight: 700 }}>{id}</th>
          <th style={cell}>Samples</th>
          <th style={cell}>
            Mutated
            <br />
            Samples
          </th>
          <th style={cell}>P-Value</th>
          <th style={cell}>Mutations</th>
        </tr>
      </thead>
      <tbody>
        {cohorts.map((c: string, i: number) => (
          <tr key={c} style={{ height: rowH }}>
            <td style={cell}>{c}</td>
            <td style={cell}>{samples[i]}</td>
            <td style={cell}>{mutated[i]}</td>
            <td style={cell}>{pvals[i]}</td>
            <td style={muts[i] ? cell : { border: "none" }}>{muts[i]}</td>
          </tr>
        ))}
      </tbody>
    </table>
  );
}

// ---------------- figure ----------------
export default function App() {
  const ys = (from: number, step: number, n: number) => Array.from({ length: n }, (_, k) => from - k * step);
  const listY = ys(6.6, 0.46, panListGenes.length);

  const panSpec = {
    box: { l: 0, t: 14, w: 142, h: 115 },
    area: { x0: 19, y0: 18, x1: 117, y1: 116 },
    xr: [-0.19, 4.77],
    yr: [-0.27, 7.76],
    xTicks: panXTicks,
    yTicks: panYTicks,
    xDec: 0,
    yTitlePad: 6.5,
    layers: [
      { x: panDiagonal, y: panDiagonal, width: 0.6, dash: [2, 1.5], color: "rgba(228,96,96,0.9)" },
      { x: panNullExpected, y: panNullObserved, r: 1.1, color: "#9a9a9a" },
      { x: panExpected, y: panObserved, width: 3.4, r: 1.3, color: "rgba(39,39,207,0.9)" },
      { x: panHitExpected, y: panHitObserved, r: 1.5, color: QQ_BLUE },
    ],
    rules: [
      [1.22, 6.75, 1.22, 2.8],
      [1.22, 3.5, 2.9, 3.77],
    ],
    labels: [
      { text: panRedGenes[0], at: [4.98, 7.55], to: [panHitExpected[9], panHitObserved[9]], color: HIT, align: "left", bold: true },
      { text: panRedGenes[1], at: [4.98, 7.2], color: HIT_SOFT, align: "left", size: 3.4 },
      { text: panRedGenes[2], at: [4.98, 6.87], color: HIT_SOFT, align: "left", size: 3.4 },
      { text: panRedGenes[3], at: [4.98, 6.54], color: HIT_SOFT, align: "left", size: 3.4 },
      { text: panRedGenes[4], at: [2.56, 6.59], to: [panHitExpected[4], panHitObserved[4]], color: HIT, align: "right", size: 3.4 },
      { text: panRedGenes[5], at: [2.65, 5.82], to: [panHitExpected[5], panHitObserved[5]], color: HIT, align: "right", size: 3.4 },
      { text: panRedGenes[6], at: [2.6, 5.2], to: [panHitExpected[2], panHitObserved[2]], color: HIT, align: "right", size: 3.4 },
      { text: panRedGenes[7], at: [2.6, 4.59], to: [panHitExpected[0], panHitObserved[0]], color: HIT, align: "right", size: 3.4 },
      { text: panRedGenes[8], at: [4.0, 6.29], to: [panHitExpected[6], panHitObserved[6]], color: HIT, align: "left", size: 3.4 },
      { text: panRedGenes[9], at: [4.0, 5.41], to: [panHitExpected[3], panHitObserved[3]], color: HIT, align: "left", size: 3.4 },
      { text: panRedGenes[10], at: [3.93, 4.79], to: [panHitExpected[1], panHitObserved[1]], color: HIT, align: "left", size: 3.4 },
      ...panListGenes.map((g, k) => ({ text: g, at: [0.32, listY[k]], color: "#222", align: "left", size: 3.3 })),
    ],
  };

  const lggSpec = {
    box: { l: 175, t: 136, w: 120, h: 113 },
    area: { x0: 196, y0: 139, x1: 288, y1: 236 },
    xr: [-0.144, 3.165],
    yr: [-0.21, 5.89],
    xTicks: lggXTicks,
    yTicks: lggYTicks,
    xDec: 1,
    yTitlePad: 7.3,
    layers: [
      { x: lggDiagonal, y: lggDiagonal, width: 0.6, dash: [2, 1.5], color: "rgba(228,96,96,0.9)" },
      { x: lggNullCurveExpected, y: lggNullCurveObserved, width: 2.6, r: 0.9, color: "#7d7d7d" },
      { x: lggNullExpected, y: lggNullObserved, r: 1.1, color: "#8f8f8f" },
      { x: lggBandExpected, y: lggBandObserved, width: 2.6, r: 0.9, color: "#93b8ee" },
      { x: lggExpected, y: lggObserved, width: 3.2, r: 1.2, color: "rgba(39,39,207,0.9)" },
      { x: lggHitExpected, y: lggHitObserved, r: 1.5, color: QQ_BLUE },
    ],
    labels: [
      { text: lggHitGenes[0], at: [1.14, 2.64], to: [lggHitExpected[0], lggHitObserved[0]], color: HIT, size: 3.5 },
      { text: lggHitGenes[1], at: [1.65, 3.1], to: [lggHitExpected[1], lggHitObserved[1]], color: HIT, size: 3.5 },
      { text: lggHitGenes[2], at: [1.92, 5.14], to: [lggHitExpected[2], lggHitObserved[2]], color: HIT, size: 3.5 },
      { text: lggHitGenes[3], at: [3.12, 4.51], to: [lggHitExpected[3], lggHitObserved[3]], color: HIT, size: 3.5, bold: true },
    ],
  };

  const blcaSpec = {
    box: { l: 0, t: 254, w: 125, h: 122 },
    area: { x0: 18, y0: 258, x1: 116, y1: 361 },
    xr: [-0.17, 3.38],
    yr: [-0.17, 4.11],
    xTicks: blcaXTicks,
    yTicks: blcaYTicks,
    xDec: 1,
    yTitlePad: 5.6,
    layers: [
      { x: blcaDiagonal, y: blcaDiagonal, width: 0.6, dash: [2, 1.5], color: "rgba(228,96,96,0.9)" },
      { x: blcaNullExpected, y: blcaNullObserved, r: 1.1, color: "#8f8f8f" },
      { x: blcaBandExpected, y: blcaBandObserved, width: 2.6, r: 0.9, color: "#93b8ee" },
      { x: blcaExpected, y: blcaObserved, width: 3.2, r: 1.2, color: "rgba(39,39,207,0.9)" },
      { x: blcaHitExpected, y: blcaHitObserved, r: 1.5, color: QQ_BLUE },
    ],
    labels: [
      { text: blcaHitGenes[0], at: [1.1, 2.12], to: [blcaHitExpected[0], blcaHitObserved[0]], color: "#222", size: 3.4, lineColor: "#333" },
      { text: blcaHitGenes[1], at: [2.54, 1.24], to: [blcaHitExpected[1], blcaHitObserved[1]], color: "#222", size: 3.4, lineColor: "#333" },
      { text: blcaHitGenes[2], at: [2.9, 1.93], to: [blcaHitExpected[2], blcaHitObserved[2]], color: "#222", size: 3.4, lineColor: "#333" },
      { text: blcaHitGenes[3], at: [1.47, 3.14], to: [blcaHitExpected[3], blcaHitObserved[3]], color: HIT, size: 3.4 },
      { text: blcaHitGenes[4], at: [2.01, 3.65], to: [blcaHitExpected[4], blcaHitObserved[4]], color: HIT, size: 3.4 },
      { text: blcaHitGenes[5], at: [2.14, 4.04], to: [blcaHitExpected[5], blcaHitObserved[5]], color: HIT, size: 3.4 },
    ],
  };

  const tertInset = {
    rect: { x0: 188, y0: 29, x1: 267, y1: 68 },
    pos: tertInsetPos, count: tertInsetCount, cadd: tertInsetCadd, yMax: 43,
    parts: [
      { from: 0, to: 28, kind: "blue", cells: 5 },
      { from: 28, to: 100, kind: "grey", cells: 11, chevron: "<" },
    ],
    partLabels: [{ at: 14, text: "5' UTR" }, { at: 48, text: "PROMOTER" }],
    tss: 28, tssDir: -1,
    notes: [
      { i: 0, fx: 0.1, fy: 0.52, text: tertNotes[0] },
      { i: 1, fx: 0.6, fy: 0.3, text: tertNotes[1] },
      { i: 2, fx: 0.6, fy: 0.18, text: tertNotes[2] },
      { i: 3, fx: 0.64, fy: 0.6, text: tertNotes[3] },
      { i: 4, fx: 0.66, fy: 0.72, text: tertNotes[4] },
    ],
  };
  const tertMain = {
    box: { l: 138, t: 18, w: 152, h: 70 },
    area: { x0: 158, y0: 22, x1: 287, y1: 77 },
    pos: tertMainPos, count: tertMainCount, cadd: tertMainCadd,
    yMin: 0, yMax: 42.9, yGrid: tertCountGrid, yLabels: tertCountLabels, dense: true, yTitlePad: 11,
    inset: tertInset.rect, guideAt: 2.5, guideSide: "left",
    track: [0, 100], cells: 18, chevron: "<", trackH: 6,
    badge: "chr5:1295k", badgeDy: 1.6, locus: "chr5:1,253,167-1,295,471",
  };

  const syf2Inset = {
    rect: { x0: 357, y0: 29, x1: 435, y1: 68 },
    pos: syf2InsetPos, count: syf2InsetCount, cadd: syf2InsetCadd, yMax: 3.3,
    parts: [
      { from: 0, to: 26, kind: "blue", cells: 4 },
      { from: 26, to: 100, kind: "grey", cells: 11, chevron: "<" },
    ],
    partLabels: [{ at: 11, text: "5' UTR" }, { at: 44, text: "PROMOTER" }],
    tss: 26, tssDir: -1,
    notes: [
      { i: 0, fx: 0.05, fy: 0.12, text: syf2Notes[0] },
      { i: 1, fx: 0.04, fy: 0.34, text: syf2Notes[1] },
      { i: 2, fx: 0.06, fy: 0.46, text: syf2Notes[2] },
      { i: 3, fx: 0.7, fy: 0.44, text: syf2Notes[3] },
      { i: 4, fx: 0.72, fy: 0.56, text: syf2Notes[4] },
    ],
  };
  const syf2Main = {
    box: { l: 310, t: 16, w: 165, h: 72 },
    area: { x0: 322, y0: 19, x1: 473, y1: 77 },
    pos: syf2MainPos, count: syf2MainCount, cadd: syf2MainCadd,
    yMin: 0.6, yMax: 4.2, yGrid: syf2CountTicks, yLabels: syf2CountLabels, yTitlePad: 4.9,
    band: [1.5, 2.5],
    inset: syf2Inset.rect, guideAt: 7.5, guideSide: "left",
    track: [4, 93.4], cells: 16, chevron: "<", trackH: 6.5,
    badge: "chr1:24838k", badgeDy: 6, locus: "chr1:24,838,011-24,838,612",
  };

  const polr2dInset = {
    rect: { x0: 50, y0: 148, x1: 132, y1: 184 },
    pos: polr2dInsetPos, count: polr2dInsetCount, cadd: polr2dInsetCadd, yMax: 3.3,
    parts: [
      { from: 0, to: 39, kind: "blue", cells: 6 },
      { from: 39, to: 100, kind: "grey", cells: 9, chevron: "<" },
    ],
    partLabels: [{ at: 20, text: "5' UTR" }, { at: 76, text: "PROMOTER" }],
    tss: 39, tssDir: -1,
    notes: [
      { i: 0, fx: 0.14, fy: 0.08, text: polr2dNotes[0] },
      { i: 1, fx: 0.12, fy: 0.26, text: polr2dNotes[1] },
      { i: 2, fx: 0.62, fy: 0.26, text: polr2dNotes[2] },
      { i: 3, fx: 0.6, fy: 0.4, text: polr2dNotes[3] },
    ],
  };
  const polr2dMain = {
    box: { l: 2, t: 137, w: 162, h: 68 },
    area: { x0: 22, y0: 140, x1: 160, y1: 196 },
    pos: polr2dMainPos, count: polr2dMainCount, cadd: polr2dMainCadd,
    yMin: 0.58, yMax: 3.98, yGrid: polr2dCountTicks, yLabels: polr2dCountTicks, yTitlePad: 7.9,
    band: [1.5, 2.5],
    inset: polr2dInset.rect, guideAt: 1.6, guideSide: "left",
    track: [0, 98.5], cells: 15, chevron: "<", trackH: 6.5,
    badge: "chr2:128615k", badgeDy: 3, locus: "chr2:128,615,540-128,616,120",
  };

  const wg505Inset = {
    rect: { x0: 173, y0: 273, x1: 252, y1: 312 },
    pos: wg505InsetPos, count: wg505InsetCount, cadd: wg505InsetCadd, yMax: 2.9,
    parts: [
      { from: 0, to: 62, kind: "grey", cells: 7 },
      { from: 62, to: 100, kind: "blue", cells: 4 },
    ],
    partLabels: [{ at: 21, text: "5' UTR" }, { at: 81, text: "CDS" }],
  };
  const wg505Main = {
    box: { l: 130, t: 261, w: 160, h: 67 },
    area: { x0: 137, y0: 263, x1: 287, y1: 322 },
    pos: wg505MainPos, count: wg505MainCount, cadd: wg505MainCadd,
    yMin: 0.49, yMax: 3.02, yGrid: tbcCountTicks, yLabels: tbcCountTicks, yTitlePad: 3.2,
    band: [1.5, 2.5],
    inset: wg505Inset.rect, guideAt: 94, guideSide: "right",
    track: [5.3, 96], cells: 16, chevron: ">", trackH: 6,
    badge: "chr10:96162k", badgeDy: 6, locus: "chr10:96,161,998-96,162,400",
  };

  const wg608Inset = {
    rect: { x0: 173, y0: 362, x1: 252, y1: 402 },
    pos: wg608InsetPos, count: wg608InsetCount, cadd: wg608InsetCadd, yMax: 2.9,
    parts: [
      { from: 0, to: 62, kind: "grey", cells: 7 },
      { from: 62, to: 100, kind: "blue", cells: 4 },
    ],
    partLabels: [{ at: 21, text: "5' UTR" }, { at: 81, text: "CDS" }],
  };
  const wg608Main = {
    box: { l: 130, t: 351, w: 160, h: 66 },
    area: { x0: 137, y0: 353, x1: 287, y1: 410 },
    pos: wg608MainPos, count: wg608MainCount, cadd: wg608MainCadd,
    yMin: 0.5, yMax: 3.0, yGrid: tbcCountTicks, yLabels: tbcCountTicks, yTitlePad: 3.2,
    band: [1.5, 2.5],
    inset: wg608Inset.rect, guideAt: 94, guideSide: "right",
    track: [5.3, 96], cells: 16, chevron: ">", trackH: 6,
    badge: "chr10:96162k", badgeDy: 4, locus: "chr10:96,161,998-96,162,400",
  };

  const tertBox = {
    box: { l: 322, t: 138, w: 70, h: 82 },
    area: { x0: 343, y0: 144, x1: 388, y1: 207 },
    yr: [-0.06, 0.375], ticks: tertTicks, dec: 2, yTitlePad: 2.4,
    q1: tertQ1, med: tertMedian, q3: tertQ3, lo: tertLow, hi: tertHigh,
    pts: [tertMutatedRpkm, tertUnmutatedRpkm], jit: [tertMutatedJitter, tertUnmutatedJitter],
    bracket: [0.322, 0.26, 0.05], pText: "pvalue = 0.0033",
  };
  const spnBox = {
    box: { l: 398, t: 138, w: 66, h: 82 },
    area: { x0: 414, y0: 144, x1: 460, y1: 207 },
    yr: [-0.03, 1.46], ticks: spnTicks, dec: 1, yTitlePad: 4,
    q1: spnQ1, med: spnMedian, q3: spnQ3, lo: spnLow, hi: spnHigh,
    pts: [spnMutatedRpkm, spnUnmutatedRpkm], jit: [spnMutatedJitter, spnUnmutatedJitter],
    bracket: [1.28, 1.16, 1.0], pText: "pvalue = 0.0482",
  };

  const letters: [string, number, number][] = [
    ["a", 6, 11], ["b", 147, 12], ["c", 316, 13], ["d", 5, 135], ["e", 175, 133],
    ["f", 315, 135], ["g", 6, 255], ["h", 132, 255], ["i", 313, 255],
  ];

  return (
    <div
      style={{
        position: "fixed",
        left: 0,
        top: 0,
        width: 480,
        height: 444,
        background: "#fff",
        overflow: "hidden",
        fontFamily: SANS,
        color: INK,
      }}
    >
      {letters.map(([t, x, y]) => (
        <Txt key={t} x={x} y={y} size={11} weight={700} family={LETTER_FONT} color="#111">
          {t}
        </Txt>
      ))}

      <Txt x={66} y={12.5} size={4.6}>Pancancer (promoters)</Txt>
      <ChartCanvas box={panSpec.box} make={() => qqConfig(panSpec)} />

      <Txt x={222} y={17} size={4.2}>TERT (promoter)</Txt>
      <ChartCanvas box={tertMain.box} make={() => lollipopConfig(tertMain)} />
      <Inset spec={tertInset} />
      <ChartCanvas
        box={{ l: 138, t: 86, w: 152, h: 12 }}
        make={() => phyloConfig({ box: { l: 138, t: 86, w: 152, h: 12 }, area: { x0: 158, y0: 87, x1: 287, y1: 97 }, values: tertPhyloP, titlePad: 12 })}
      />
      <ColorBar x={153} y={104} w={59} h={4.5} />

      <Txt x={396} y={15.5} size={4.2}>SYF2 (promoter)</Txt>
      <ChartCanvas box={syf2Main.box} make={() => lollipopConfig(syf2Main)} />
      <Inset spec={syf2Inset} />
      <ChartCanvas
        box={{ l: 310, t: 86, w: 165, h: 13 }}
        make={() => phyloConfig({ box: { l: 310, t: 86, w: 165, h: 13 }, area: { x0: 322, y0: 87.5, x1: 473, y1: 98 }, values: syf2PhyloP, titlePad: 4 })}
      />
      <ColorBar x={322} y={104} w={58} h={5} />

      <Txt x={86} y={135} size={4.2}>POLR2D (promoter)</Txt>
      <ChartCanvas box={polr2dMain.box} make={() => lollipopConfig(polr2dMain)} />
      <Inset spec={polr2dInset} />
      <ChartCanvas
        box={{ l: 2, t: 205, w: 165, h: 13 }}
        make={() => phyloConfig({ box: { l: 2, t: 205, w: 165, h: 13 }, area: { x0: 15, y0: 206, x1: 165, y1: 217 }, values: polr2dPhyloP, titlePad: 4 })}
      />
      <ColorBar x={15} y={222} w={60} h={5} />

      <Txt x={245} y={133} size={4.4}>Brain lower grade glioma (LGG) (promoters)</Txt>
      <ChartCanvas box={lggSpec.box} make={() => qqConfig(lggSpec)} />

      <Txt x={366} y={136} size={4.6}>TERT</Txt>
      <Txt x={437} y={136} size={4.6}>SPN</Txt>
      <ChartCanvas box={tertBox.box} make={() => boxConfig(tertBox)} />
      <ChartCanvas box={spnBox.box} make={() => boxConfig(spnBox)} />

      <Txt x={67} y={255} size={4.4}>Bladder urothelial carcinoma (BLCA) (5' UTRs)</Txt>
      <ChartCanvas box={blcaSpec.box} make={() => qqConfig(blcaSpec)} />

      <Txt x={215} y={259} size={4}>TBC1D12 (WG-505) (5' UTR)</Txt>
      <ChartCanvas box={wg505Main.box} make={() => lollipopConfig(wg505Main)} />
      <Inset spec={wg505Inset} />
      <ChartCanvas
        box={{ l: 128, t: 328, w: 162, h: 13 }}
        make={() => phyloConfig({ box: { l: 128, t: 328, w: 162, h: 13 }, area: { x0: 137, y0: 329, x1: 287, y1: 340 }, values: wg505PhyloP, titlePad: 1 })}
      />
      <Txt x={215} y={348.5} size={4}>TBC1D12 (WG-608) (5' UTR)</Txt>
      <ChartCanvas box={wg608Main.box} make={() => lollipopConfig(wg608Main)} />
      <Inset spec={wg608Inset} />
      <ChartCanvas
        box={{ l: 128, t: 417, w: 162, h: 13 }}
        make={() => phyloConfig({ box: { l: 128, t: 417, w: 162, h: 13 }, area: { x0: 137, y0: 418, x1: 287, y1: 429 }, values: wg608PhyloP, titlePad: 1 })}
      />
      <ColorBar x={138} y={436} w={59} h={5} />

      <Txt x={386} y={260} size={4}>TBC1D12 (5' UTR)</Txt>
      <CohortTable
        left={313} top={266.7} id="WG-505" headH={11.6} rowH={12.8}
        cohorts={wg505Cohorts} samples={wg505Samples} mutated={wg505Mutated} pvals={wg505PValues} muts={wg505Mutations}
      />
      <Txt x={386} y={362.7} size={4}>TBC1D12 (5' UTR)</Txt>
      <CohortTable
        left={313} top={366.7} id="WG-608" headH={13.3} rowH={13.1}
        cohorts={wg608Cohorts} samples={wg608Samples} mutated={wg608Mutated} pvals={wg608PValues} muts={wg608Mutations}
      />

      <div style={{ position: "absolute", left: 475, top: 0, width: 1.4, height: 422, background: "#3a3a3a" }} />
    </div>
  );
}
